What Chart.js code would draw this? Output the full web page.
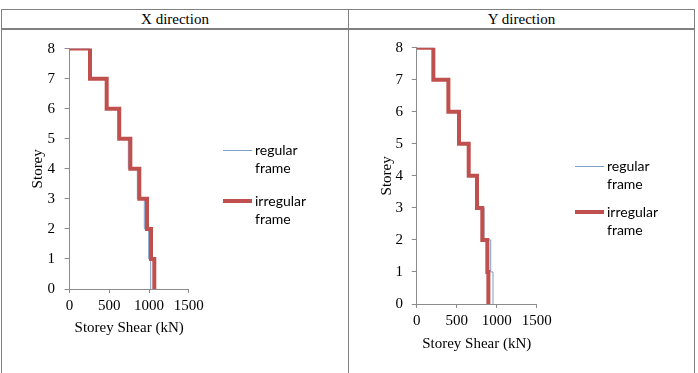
<!DOCTYPE html>
<html><head><meta charset="utf-8">
<script src="https://cdn.jsdelivr.net/npm/chart.js@4"></script>
<style>
body{margin:0;background:#fff;width:698px;height:373px;position:relative;overflow:hidden;font-family:"Liberation Serif",serif;}
.ln{position:absolute;background:#808080;z-index:5;}
.hdr{position:absolute;top:10px;height:18px;line-height:18px;text-align:center;font-size:15px;color:#000;}
canvas.cv{position:absolute;top:30px;}
.legtxt{position:absolute;font-family:Lato,sans-serif;font-size:14px;line-height:17.5px;color:#000;white-space:nowrap;}
.legln{position:absolute;}
</style></head><body>
<div class="ln" style="left:1px;top:9px;width:694px;height:1px"></div>
<div class="ln" style="left:1px;top:28px;width:694px;height:2px"></div>
<div class="ln" style="left:1px;top:9px;width:1px;height:364px"></div>
<div class="ln" style="left:348px;top:9px;width:1px;height:364px"></div>
<div class="ln" style="left:694px;top:9px;width:1px;height:364px"></div>
<div class="hdr" id="h0" style="left:2px;width:346px"></div>
<div class="hdr" id="h1" style="left:349px;width:345px"></div>
<canvas class="cv" id="c0" width="348" height="343" style="left:0px"></canvas>
<canvas class="cv" id="c1" width="346" height="343" style="left:350px"></canvas>
<div id="legends"></div>
<script>
// ---- data ----
const panelTitles = ['X direction', 'Y direction'];
const seriesNames = ['regular frame', 'irregular frame'];
const storeyLevels = [8, 7, 6, 5, 4, 3, 2, 1];
const xRegular   = [257, 467, 612, 740, 853, 941, 996, 1021];
const xIrregular = [257, 467, 625, 765, 878, 975, 1025, 1067];
const yRegular   = [208, 396, 529, 650, 758, 842, 925, 954];
const yIrregular = [208, 396, 529, 650, 754, 820, 883, 896];
const shearTicks = [0, 500, 1000, 1500];
const storeyTicks = [0, 1, 2, 3, 4, 5, 6, 7, 8];
const xTitle = 'Storey Shear (kN)';
const yTitle = 'Storey';

const colRegular = '#7F9DC9';
const colIrregular = '#C0504D';
const axisCol = '#8c8c8c';

document.getElementById('h0').textContent = panelTitles[0];
document.getElementById('h1').textContent = panelTitles[1];

function stepPoints(shear) {
  const pts = [{x: 0, y: storeyLevels[0]}];
  shear.forEach((v, i) => pts.push({x: v, y: storeyLevels[i] - 1}));
  return pts;
}

function makeChart(id, regular, irregular, L) {
  const font = {family: 'Liberation Serif', size: 15};
  new Chart(document.getElementById(id), {
    type: 'line',
    data: {datasets: [
      {label: seriesNames[1], data: stepPoints(irregular), borderColor: colIrregular, borderWidth: 4,
       pointRadius: 0, stepped: 'before', order: 0, fill: false},
      {label: seriesNames[0], data: stepPoints(regular), borderColor: colRegular, borderWidth: 1,
       pointRadius: 0, stepped: 'before', order: 1, fill: false}
    ]},
    options: {
      responsive: false, animation: false, devicePixelRatio: 1,
      layout: {padding: {left: 0, right: L.padRight, top: 17, bottom: L.padBottom}},
      plugins: {legend: {display: false}, tooltip: {enabled: false}},
      scales: {
        x: {
          type: 'linear', min: 0, max: 1500,
          afterBuildTicks: s => { s.ticks = shearTicks.map(v => ({value: v})); },
          grid: {display: true, drawOnChartArea: false, drawTicks: true, tickLength: 4, color: axisCol},
          border: {display: true, color: axisCol, width: 1},
          ticks: {font: font, color: '#000', padding: 4, maxRotation: 0, autoSkip: false,
                  callback: v => String(v)},
          title: {display: true, text: xTitle, font: font, color: '#000', padding: {top: 0, bottom: 0}},
          afterFit: s => { s.height = L.xH; }
        },
        y: {
          type: 'linear', min: 0, max: 8,
          afterBuildTicks: s => { s.ticks = storeyTicks.map(v => ({value: v})); },
          grid: {display: true, drawOnChartArea: false, drawTicks: true, tickLength: 5, color: axisCol},
          border: {display: true, color: axisCol, width: 1},
          ticks: {font: font, color: '#000', padding: L.yPad, autoSkip: false, callback: v => String(v)},
          title: {display: true, text: yTitle, font: font, color: '#000', padding: {top: L.yTitlePad, bottom: 0}},
          afterFit: s => { s.width = L.yW; }
        }
      }
    }
  });
}

makeChart('c0', xRegular, xIrregular, {padRight: 159.3, padBottom: 36, xH: 48, yW: 69.6, yPad: 9.6, yTitlePad: 29});
makeChart('c1', yRegular, yIrregular, {padRight: 159.3, padBottom: 19.6, xH: 49.4, yW: 66.7, yPad: 8.7, yTitlePad: 28});

// legends (HTML, multi-line labels)
const legendPos = [
  {lineX: 223, textX: 255, top1: 150, top2: 201},
  {lineX: 575, textX: 607, top1: 166, top2: 212}
];
const legHost = document.getElementById('legends');
legendPos.forEach(p => {
  [[seriesNames[0], colRegular, 1, p.top1], [seriesNames[1], colIrregular, 4, p.top2]].forEach(([name, col, w, cy]) => {
    const l = document.createElement('div');
    l.className = 'legln';
    l.style.cssText = `left:${p.lineX}px;top:${cy - w / 2}px;width:29px;height:${w}px;background:${col}`;
    legHost.appendChild(l);
    const t = document.createElement('div');
    t.className = 'legtxt';
    t.style.left = p.textX + 'px';
    t.style.top = (cy - 8.75) + 'px';
    t.innerHTML = name.split(' ').join('<br>');
    legHost.appendChild(t);
  });
});
</script>
</body></html>
